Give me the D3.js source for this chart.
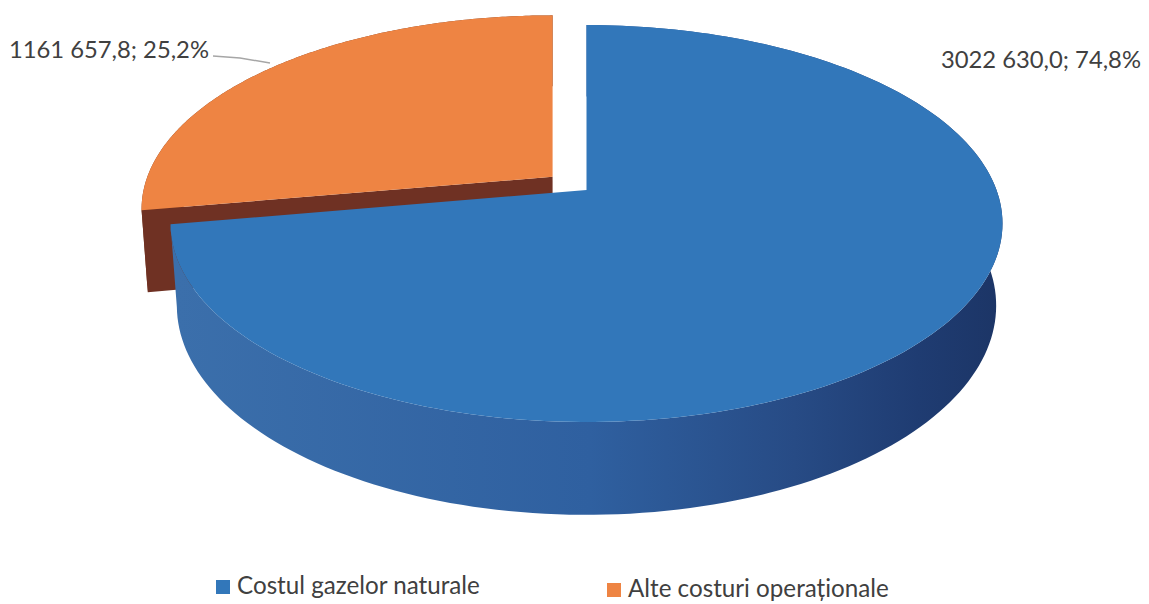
<!DOCTYPE html>
<html>
<head>
<meta charset="utf-8">
<script src="https://cdn.jsdelivr.net/npm/d3@7"></script>
<style>
  html, body { margin: 0; padding: 0; background: #fff; }
  svg { display: block; }
  text { font-family: Lato, "Open Sans", sans-serif; fill: #404040; }
</style>
</head>
<body>
<svg class="chart"></svg>
<script>
const categories = ["Costul gazelor naturale", "Alte costuri operaționale"];
const values = [3022630.0, 1161657.8];
const valueLabels = ["3022 630,0", "1161 657,8"];
const percentLabels = ["74,8%", "25,2%"];

const width = 1149, height = 604;

// perspective view of the pie, u/v in the plane of the disc, h = 0 top face, 1 bottom face
const view = {cx: 586.5, cy: 190, a: 410, b: 192.8, k: 0.169, depth: 82, shrink: 0.015};
const explode = 0.108;

const colours = [
    {top: "#3277ba"},
    {top: "#ee8443", wall: "#7a3a20", cut: "#6f3123"}
];

const project = (u, v, h, shiftX) => {
    const w = 1 - view.k * v + view.shrink * h;
    return [view.cx + shiftX + view.a * u / w, view.cy + (view.b * v + view.depth * h) / w];
};

const svg = d3.select(".chart").attr("width", width).attr("height", height);

const grad = svg.append("defs").append("linearGradient")
    .attr("id", "blueWall").attr("gradientUnits", "userSpaceOnUse")
    .attr("x1", 178).attr("x2", 1000).attr("y1", 0).attr("y2", 0);
[[0, "#3b6fab"], [0.5, "#2f60a0"], [0.75, "#274b85"], [0.9, "#1f3c72"], [1, "#1c3566"]].forEach(s => {
    grad.append("stop").attr("offset", s[0]).attr("stop-color", s[1]);
});

const slices = d3.pie().sort(null)(values).map((d, i) => {
    const mid = (d.startAngle + d.endAngle) / 2;
    const off = i === 1 ? explode : 0;
    const shiftX = view.a * off * Math.sin(mid), oy = -off * Math.cos(mid);
    const pt = (t, h) => project(Math.sin(t), oy - Math.cos(t), h, shiftX);
    const angles = d3.range(0, 181).map(n => d.startAngle + (d.endAngle - d.startAngle) * n / 180);
    return {i, pt, angles, apex: h => project(0, oy, h, shiftX), start: d.startAngle, end: d.endAngle};
});

const line = d3.line();
const topFace = s => line([s.apex(0), ...s.angles.map(t => s.pt(t, 0))]) + "Z";
const outerWall = s => line([...s.angles.map(t => s.pt(t, 0)), ...s.angles.slice().reverse().map(t => s.pt(t, 1))]) + "Z";

const blue = slices[0], orange = slices[1];

// back to front
svg.append("path").attr("d", outerWall(orange)).attr("fill", colours[1].wall);
svg.append("path")
    .attr("d", line([orange.apex(0), orange.pt(orange.start, 0), orange.pt(orange.start, 1), orange.apex(1)]) + "Z")
    .attr("fill", colours[1].cut);
svg.append("path").attr("d", topFace(orange)).attr("fill", colours[1].top);
svg.append("path").attr("d", outerWall(blue)).attr("fill", "url(#blueWall)");
svg.append("path").attr("d", topFace(blue)).attr("fill", colours[0].top);

// data labels
const labelText = i => `${valueLabels[i]}; ${percentLabels[i]}`;
svg.append("path")
    .attr("d", line([[213, 56], [240, 58], [270, 63]]))
    .attr("fill", "none").attr("stroke", "#a6a6a6").attr("stroke-width", 1.4);
svg.selectAll(".label")
    .data([{i: 0, x: 1141, y: 68}, {i: 1, x: 209, y: 58}])
    .enter().append("text")
    .attr("class", "label")
    .attr("x", d => d.x).attr("y", d => d.y)
    .attr("text-anchor", "end")
    .attr("font-size", 23.8)
    .text(d => labelText(d.i));

// legend
const legend = svg.selectAll(".legend")
    .data(categories)
    .enter().append("g")
    .attr("class", "legend")
    .attr("transform", (d, i) => `translate(${[216, 607][i]},${[580, 583][i]})`);
legend.append("rect").attr("width", 14).attr("height", 14)
    .attr("fill", (d, i) => colours[i].top);
legend.append("text").attr("x", 21).attr("y", 14)
    .attr("font-size", 24.2)
    .text(d => d);
</script>
</body>
</html>
